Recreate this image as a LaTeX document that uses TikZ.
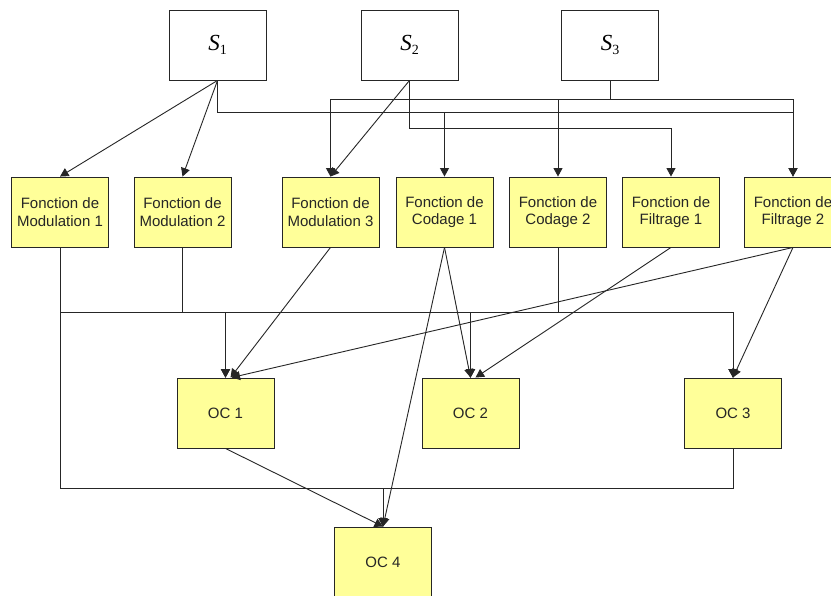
\documentclass[tikz,border=0pt]{standalone}
\usepackage{fontspec}
\setmainfont{Liberation Sans}
\newfontfamily\serifS{Liberation Serif}
\usetikzlibrary{arrows.meta}
\definecolor{yellowfill}{RGB}{255,255,153}
\newcommand\mySlabel[1]{{\serifS\fontsize{23}{23}\selectfont\itshape S}\raisebox{-4pt}{\serifS\fontsize{14}{14}\selectfont #1}}
\begin{document}
\begin{tikzpicture}[x=1pt,y=-1pt,
  sbox/.style={draw=black!85, line width=0.9pt, fill=white, minimum width=97pt, minimum height=70pt, inner sep=0pt},
  ybox/.style={draw=black!85, line width=0.9pt, fill=yellowfill, minimum width=97pt, minimum height=70pt, inner sep=0pt, align=center, font=\fontsize{15}{17.5}\selectfont, text=black!85},
  arr/.style={draw=black!85, line width=0.9pt, -{Triangle[length=8.5pt,width=9pt]}}]
\clip (0,0) rectangle (831,596);
\fill[white] (0,0) rectangle (831,596);
% top sources
\node[sbox] (S1) at (217.5,45) {\mySlabel{1}};
\node[sbox] (S2) at (409.5,45) {\mySlabel{2}};
\node[sbox] (S3) at (610,45) {\mySlabel{3}};
% functions
\node[ybox] (FM1) at (60,212) {Fonction de\\Modulation 1};
\node[ybox] (FM2) at (182.5,212) {Fonction de\\Modulation 2};
\node[ybox] (FM3) at (330.5,212) {Fonction de\\Modulation 3};
\node[ybox] (FC1) at (444.5,212) {Fonction de\\Codage 1};
\node[ybox] (FC2) at (558,212) {Fonction de\\Codage 2};
\node[ybox] (FF1) at (671,212) {Fonction de\\Filtrage 1};
\node[ybox] (FF2) at (793,212) {Fonction de\\Filtrage 2};
% OCs
\node[ybox] (OC1) at (225.5,413) {OC 1};
\node[ybox] (OC2) at (470.5,413) {OC 2};
\node[ybox] (OC3) at (733,413) {OC 3};
\node[ybox] (OC4) at (383,562) {OC 4};
% bus levels
\coordinate (busA) at (0,99);
\coordinate (busB) at (0,112);
\coordinate (busC) at (0,128);
\coordinate (busD) at (0,312);
\coordinate (busE) at (0,488);
% top connectors
\draw[arr] (S1.south) -- (FM1.north);
\draw[arr] (S1.south) -- (FM2.north);
\draw[arr] (S1.south) |- (FC1.north |- busB) -- (FC1.north);
\draw[arr] (S1.south) |- (FF2.north |- busB) -- (FF2.north);
\draw[arr] (S2.south) -- (FM3.north);
\draw[arr] (S2.south) |- (FF1.north |- busC) -- (FF1.north);
\draw[arr] (S3.south) |- (FM3.north |- busA) -- (FM3.north);
\draw[arr] (S3.south) |- (FC2.north |- busA) -- (FC2.north);
\draw[arr] (S3.south) |- (FF2.north |- busA) -- (FF2.north);
% lower bus
\foreach \src in {FM1,FM2,FC2}{
  \foreach \dst in {OC1,OC2,OC3}{
    \draw[arr] (\src.south) |- (\dst.north |- busD) -- (\dst.north);
  }
}
\draw[arr] (FM1.south) |- (OC4.north |- busE) -- (OC4.north);
\draw[arr] (OC3.south) |- (OC4.north |- busE) -- (OC4.north);
% diagonals
\draw[arr] (FM3.south) -- ([xshift=5pt]OC1.north);
\draw[arr] (FF2.south) -- ([xshift=6pt]OC1.north);
\draw[arr] (FF2.south) -- (OC3.north);
\draw[arr] (FF1.south) -- ([xshift=5pt]OC2.north);
\draw[arr] (FC1.south) -- (OC2.north);
\draw[arr] (FC1.south) -- (OC4.north);
\draw[arr] (OC1.south) -- (OC4.north);
\end{tikzpicture}
\end{document}
